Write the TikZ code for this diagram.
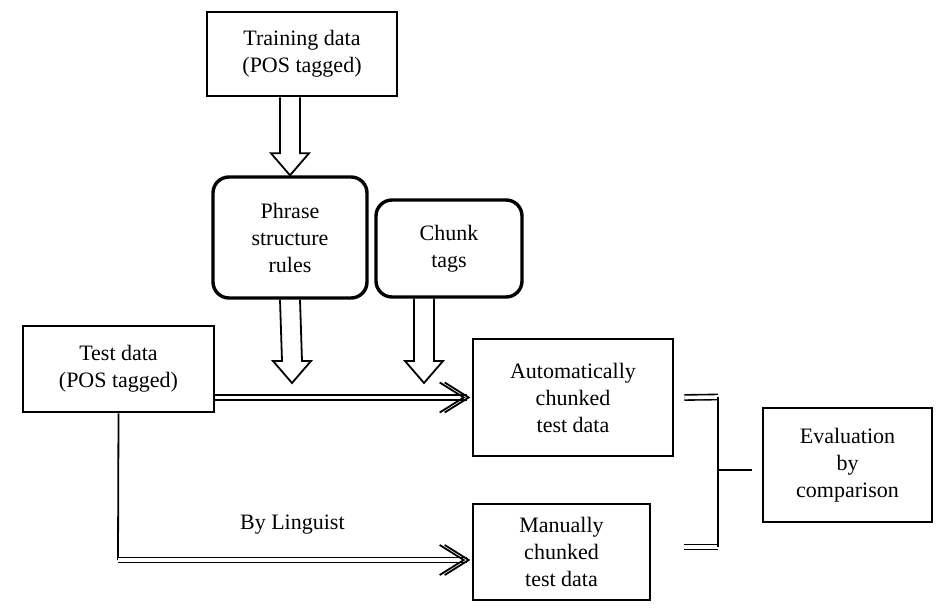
\documentclass[tikz,border=0pt]{standalone}
\usepackage{fontspec}
\setmainfont{Liberation Serif}
\usetikzlibrary{calc}

% outlined block arrow from #1 straight down to its tip #2
\newcommand\hollowarrow[2]{%
\draw[hollow] ($(#1)+(-5pt,0)$) -- ($(#2)+(-5pt,11pt)$) -- ($(#2)+(-9.5pt,11pt)$) -- (#2)
  -- ($(#2)+(9.5pt,11pt)$) -- ($(#2)+(5pt,11pt)$) -- ($(#1)+(5pt,0)$);}
% double chevron head for a double line ending at #1
\newcommand\pairhead[1]{%
\draw[head] ($(#1)+(-12pt,7.5pt)$) -- (#1) -- ($(#1)+(-12pt,-7.5pt)$);
\draw[head] ($(#1)+(-14.5pt,7.5pt)$) -- ($(#1)+(-2.5pt,0)$) -- ($(#1)+(-14.5pt,-7.5pt)$);}

\begin{document}
\begin{tikzpicture}[x=0.5pt,y=-0.5pt,
  box/.style={draw,line width=1.3pt,align=center,inner sep=0pt,font=\fontsize{11}{13.5}\selectfont},
  rbox/.style={box,line width=1.7pt,rounded corners=8pt},
  hollow/.style={line width=.9pt,line join=miter},
  pair/.style={double,double distance=1.8pt,line width=.8pt},
  head/.style={line width=.9pt,line join=miter}]
\useasboundingbox (0,0) rectangle (940,614);

\node[box,minimum width=95pt,minimum height=42pt] (train) at (302,54) {Training data\\(POS tagged)};
\node[rbox,minimum width=77pt,minimum height=60.5pt] (rules) at (290,237.5) {Phrase\\structure\\rules};
\node[rbox,minimum width=73pt,minimum height=48.5pt] (tags) at (449,248.5) {Chunk\\tags};
\node[box,minimum width=95.5pt,minimum height=43pt] (test) at (118.5,369) {Test data\\(POS tagged)};
\node[box,minimum width=100pt,minimum height=58.5pt] (auto) at (573,397.5) {Automatically\\chunked\\test data};
\node[box,minimum width=88.5pt,minimum height=48pt] (manual) at (561.5,552) {Manually\\chunked\\test data};
\node[box,minimum width=84.5pt,minimum height=57pt] (eval) at (847.5,465) {Evaluation\\by\\comparison};

\coordinate (trainout) at (train.south -| rules.north);
\coordinate (rulesend) at (292,383);
\coordinate (tagsend) at (424,383);
\coordinate (tagsout) at (tags.south -| tagsend);
\coordinate (corner) at (118,560);
\coordinate (autoin) at ([xshift=-1.5pt]auto.west);
\coordinate (manin) at ([xshift=-1.5pt]corner -| manual.west);

\hollowarrow{trainout}{rules.north}
\hollowarrow{rules.south}{rulesend}
\hollowarrow{tagsout}{tagsend}

\draw[pair] (test.east |- autoin) -- ([xshift=-1pt]autoin);
\pairhead{autoin}
\draw[line width=.9pt] (test.south) -- (corner);
\draw[pair] (corner) -- ([xshift=-1pt]manin) node[midway,above=9pt,font=\fontsize{11}{13.5}\selectfont] (ling) {By Linguist};
\pairhead{manin}

% joining the two results
\coordinate (ja) at (718,397);
\coordinate (jb) at (718,547);
\coordinate (jm) at (718,470);
\draw[pair] ([xshift=5pt]auto.east) -- (ja);
\draw[pair] ([xshift=16.5pt]manual.east |- jb) -- (jb);
\draw[line width=.9pt] (ja) -- (jb);
\draw[line width=.9pt] (jm) -- ([xshift=-5pt]eval.west |- jm);
\end{tikzpicture}
\end{document}
